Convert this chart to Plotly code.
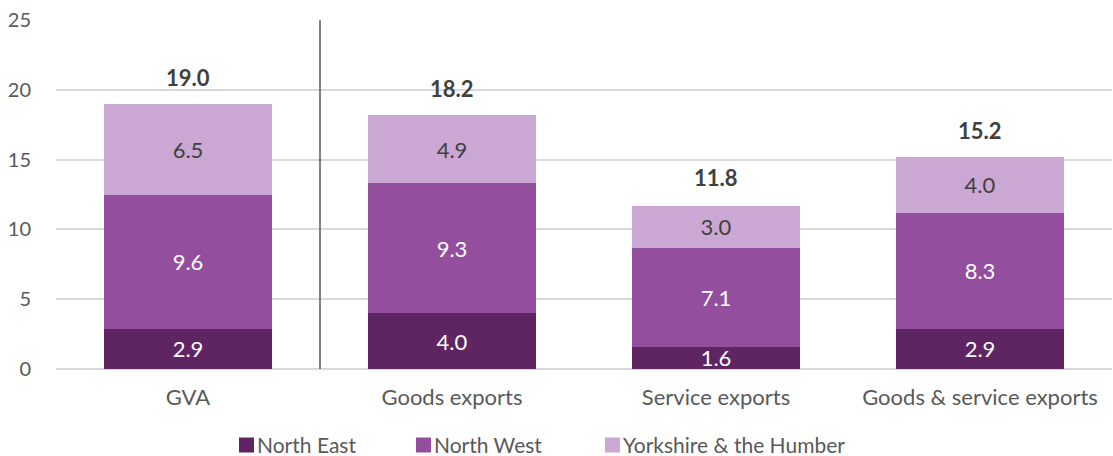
import plotly.graph_objects as go

categories = ["GVA", "Goods exports", "Service exports", "Goods & service exports"]
north_east = [2.9, 4.0, 1.6, 2.9]
north_west = [9.6, 9.3, 7.1, 8.3]
yorkshire = [6.5, 4.9, 3.0, 4.0]
totals = [19.0, 18.2, 11.8, 15.2]
y_ticks = [0, 5, 10, 15, 20, 25]

FONT = "Lato"
W, H = 1113, 456
M_L, M_R, M_T, M_B = 56, 1, 20, 87

series = [
    ("North East", north_east, "#5f2462", "white"),
    ("North West", north_west, "#934f9d", "white"),
    ("Yorkshire & the Humber", yorkshire, "#cba7d3", "#404040"),
]

fig = go.Figure()
for name, vals, color, label_color in series:
    fig.add_trace(go.Bar(
        name=name, x=categories, y=vals,
        marker=dict(color=color, line=dict(width=0)),
        text=[f"{v:.1f}" for v in vals],
        textposition="inside", insidetextanchor="middle",
        constraintext="none",
        insidetextfont=dict(family=FONT, size=22, color=label_color),
        width=0.64, showlegend=False,
    ))

for cat, tot in zip(categories, totals):
    fig.add_annotation(
        x=cat, y=tot, text=f"<b>{tot:.1f}</b>", showarrow=False,
        yanchor="bottom", yshift=11,
        font=dict(family=FONT, size=22, color="#404040"),
    )

# separator between GVA and the export measures
fig.add_shape(type="line", xref="x", yref="paper", x0=0.5, x1=0.5, y0=0, y1=1,
              line=dict(color="#595959", width=1.5))

# legend row below the axis: swatch + label per series
plot_w = W - M_L - M_R
plot_h = H - M_T - M_B


def px_x(px):
    return (px - M_L) / plot_w


def px_y(py):
    return (H - M_B - py) / plot_h


legend_left = [239, 416, 605]
swatch = 15
legend_mid = 444
for (name, _, color, _), left in zip(series, legend_left):
    fig.add_shape(type="rect", xref="paper", yref="paper",
                  x0=px_x(left), x1=px_x(left + swatch),
                  y0=px_y(legend_mid + 1 + swatch / 2), y1=px_y(legend_mid + 1 - swatch / 2),
                  fillcolor=color, line=dict(width=0))
    fig.add_annotation(xref="paper", yref="paper", x=px_x(left + swatch + 2),
                       y=px_y(legend_mid), text=name, showarrow=False,
                       xanchor="left", yanchor="middle", borderpad=0,
                       font=dict(family=FONT, size=21, color="#595959"))

fig.update_layout(
    barmode="stack",
    width=W, height=H,
    margin=dict(l=M_L, r=M_R, t=M_T, b=M_B, autoexpand=False),
    plot_bgcolor="white", paper_bgcolor="white",
    font=dict(family=FONT, size=20, color="#595959"),
    bargap=0.36,
    showlegend=False,
    xaxis=dict(showgrid=False, showline=False, ticks="", ticklabelstandoff=13,
               tickfont=dict(family=FONT, size=22, color="#595959")),
    yaxis=dict(range=[0, 25], tickvals=y_ticks, showgrid=True, gridcolor="#d9d9d9",
               gridwidth=1.5, zeroline=True, zerolinecolor="#d9d9d9", zerolinewidth=1.5,
               showline=False, ticks="", ticklabelstandoff=24,
               tickfont=dict(family=FONT, size=20, color="#595959")),
)

fig.write_html("out.html")
